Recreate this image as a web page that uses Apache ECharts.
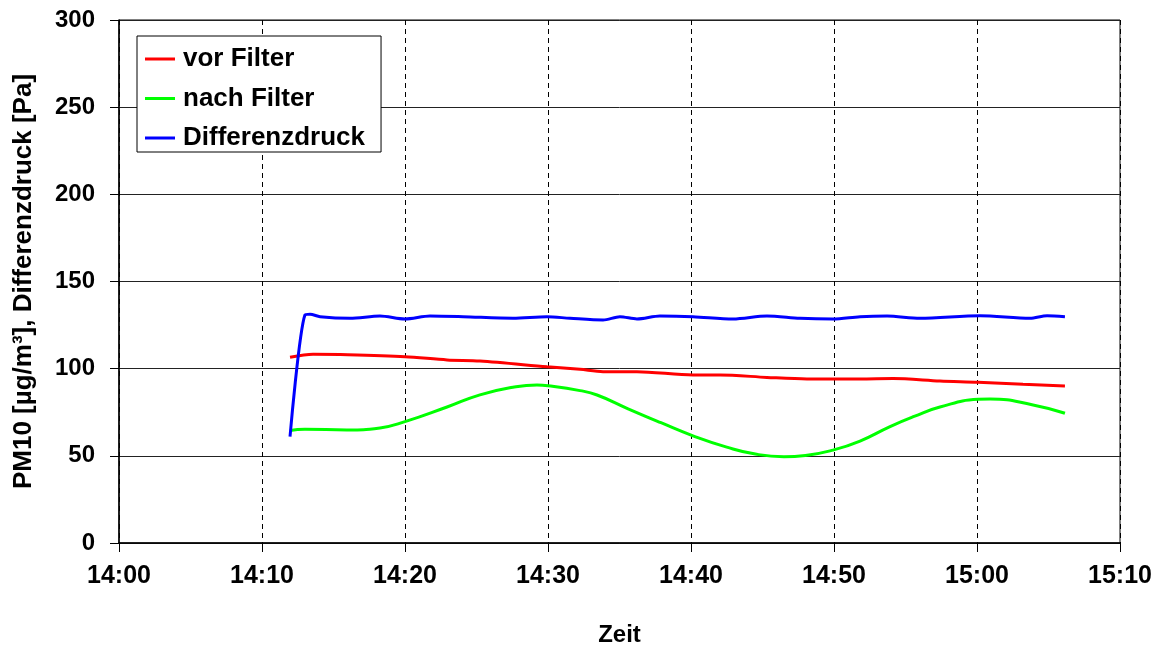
<!DOCTYPE html>
<html>
<head>
<meta charset="utf-8">
<script src="https://cdn.jsdelivr.net/npm/echarts@6/dist/echarts.min.js"></script>
<style>html,body{margin:0;padding:0;background:#fff}#c{width:1165px;height:646px}</style>
</head>
<body>
<div id="c"></div>
<script>
// time in minutes after 14:00
var xTicks = [0, 10, 20, 30, 40, 50, 60, 70];
var xTickLabels = ['14:00', '14:10', '14:20', '14:30', '14:40', '14:50', '15:00', '15:10'];

var vorT = [11.96, 13.57, 16.0, 20.0, 22.94, 25.24, 29.93, 32.24, 33.85, 36.22, 40.14, 42.03, 45.31, 48.11, 51.82, 54.13, 57.41, 60.07, 63.22, 66.15];
var vorV = [106.5, 108.2, 108.0, 106.9, 105, 104.4, 101.1, 99.6, 98.3, 98.3, 96.4, 96.4, 95, 94.1, 94.1, 94.3, 92.9, 92.2, 91, 90.1];

var nachT = [11.96, 13.0, 15.94, 18.25, 20.0, 22.94, 25.24, 27.55, 29.23, 30.0, 32.24, 33.43, 35.6, 37.9, 40.14, 42.5, 44.5, 46.5, 48.0, 49.93, 51.82, 53.92, 55.6, 57.41, 60.07, 60.91, 63.92, 66.15];
var nachV = [64.5, 65.3, 64.8, 66, 69.6, 78, 85, 89.3, 90.6, 90.2, 87.4, 84.9, 77, 69, 61.5, 55, 51, 49.5, 50.2, 53.3, 58.5, 66.8, 72.6, 78, 82.4, 82.6, 79.2, 74.4];

var diffT = [11.96, 13.0, 13.36, 14.06, 16.15, 18.25, 20.0, 21.75, 24.06, 27.55, 29.93, 31.54, 33.85, 35.03, 36.22, 37.83, 40.14, 42.94, 45.31, 47.62, 49.93, 51.82, 53.71, 56.01, 60.21, 63.71, 64.9, 66.15];
var diffV = [61, 130.8, 131.2, 129.8, 128.9, 130.2, 128.5, 130.2, 129.8, 128.9, 129.8, 128.9, 127.9, 129.8, 128.5, 130.2, 129.8, 128.5, 130.2, 128.9, 128.5, 129.8, 130.2, 128.9, 130.4, 128.9, 130.4, 129.8];

var seriesNames = ['vor Filter', 'nach Filter', 'Differenzdruck'];

function pairs(t, v) { return t.map(function (x, i) { return [x, v[i]]; }); }

var FONT = '"Liberation Sans", Arial, sans-serif';
var chart = echarts.init(document.getElementById('c'), null, { renderer: 'canvas' });
chart.setOption({
  animation: false,
  backgroundColor: '#fff',
  grid: { left: 119, right: 45, top: 20, bottom: 103, containLabel: false, outerBoundsMode: 'none', show: true, borderColor: '#000', borderWidth: 1, backgroundColor: 'transparent' },
  legend: {
    left: 137, top: 36, orient: 'vertical',
    data: seriesNames.map(function (n) { return { name: n, icon: 'rect' }; }),
    itemWidth: 30, itemHeight: 3, itemGap: 13.5,
    padding: [10, 16, 1, 8],
    backgroundColor: '#fff', borderColor: '#000', borderWidth: 1,
    textStyle: { fontFamily: FONT, fontWeight: 'bold', fontSize: 26, color: '#000', lineHeight: 26, padding: [0, 0, 0, 3] }
  },
  xAxis: {
    type: 'value', min: 0, max: 70, interval: 10,
    name: 'Zeit', nameLocation: 'middle', nameGap: 80,
    nameTextStyle: { fontFamily: FONT, fontWeight: 'bold', fontSize: 24, color: '#000' },
    axisLine: { show: true, onZero: false, lineStyle: { color: '#000', width: 1.5 } },
    axisTick: { show: true, inside: false, length: 9, lineStyle: { color: '#000', width: 1 } },
    axisLabel: {
      margin: 21, fontFamily: FONT, fontWeight: 'bold', fontSize: 25, color: '#000',
      formatter: function (v) { var i = xTicks.indexOf(v); return i >= 0 ? xTickLabels[i] : ''; }
    },
    splitLine: { show: true, lineStyle: { color: '#000', width: 1, type: [5, 4] } }
  },
  yAxis: {
    type: 'value', min: 0, max: 300, interval: 50,
    name: 'PM10 [µg/m³], Differenzdruck [Pa]', nameLocation: 'middle', nameGap: 82,
    nameTextStyle: { fontFamily: FONT, fontWeight: 'bold', fontSize: 26, color: '#000' },
    axisLine: { show: true, lineStyle: { color: '#000', width: 1.5 } },
    axisTick: { show: true, inside: false, length: 9, lineStyle: { color: '#000', width: 1 } },
    axisLabel: { margin: 24, fontFamily: FONT, fontWeight: 'bold', fontSize: 24, color: '#000' },
    splitLine: { show: true, lineStyle: { color: '#222', width: 1 } }
  },
  series: [
    { name: seriesNames[0], type: 'line', data: pairs(vorT, vorV), symbol: 'none', smooth: 0.3, color: '#ff0000', lineStyle: { color: '#ff0000', width: 3 }, z: 3 },
    { name: seriesNames[1], type: 'line', data: pairs(nachT, nachV), symbol: 'none', smooth: 0.5, color: '#00ff00', lineStyle: { color: '#00ff00', width: 3 }, z: 3 },
    { name: seriesNames[2], type: 'line', data: pairs(diffT, diffV), symbol: 'none', smooth: 0.3, color: '#0000ff', lineStyle: { color: '#0000ff', width: 3 }, z: 4 }
  ]
});
</script>
</body>
</html>
